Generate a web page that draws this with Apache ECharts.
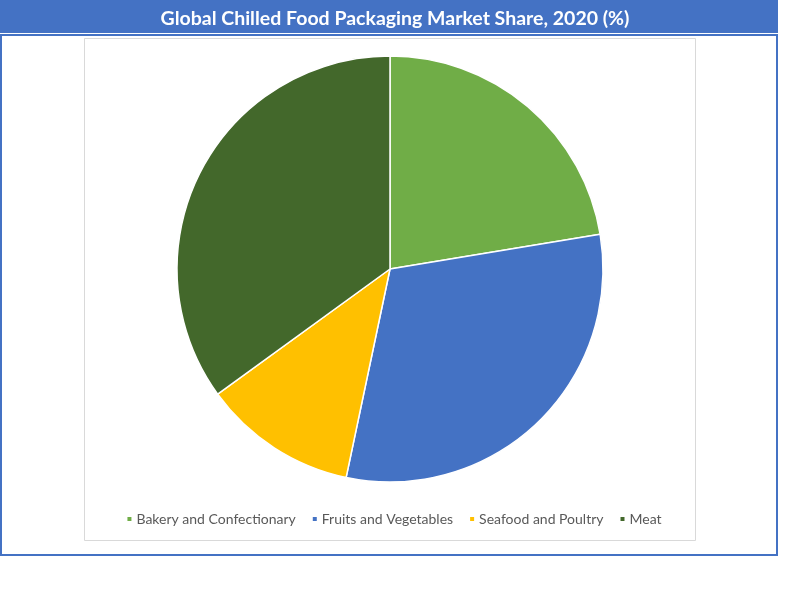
<!DOCTYPE html>
<html>
<head>
<meta charset="utf-8">
<script src="https://cdn.jsdelivr.net/npm/echarts@6/dist/echarts.min.js"></script>
<style>
  html, body { margin: 0; padding: 0; background: #ffffff; }
  #chart { width: 787px; height: 600px; }
</style>
</head>
<body>
<div id="chart"></div>
<script>
// market share, 2020 (%)
var categories = ['Bakery and Confectionary', 'Fruits and Vegetables', 'Seafood and Poultry', 'Meat'];
var shares = [22.4, 30.9, 11.7, 35.0];
var colors = ['#70AD47', '#4472C4', '#FFC000', '#43682B'];

var chart = echarts.init(document.getElementById('chart'));

var pieData = [];
for (var i = 0; i < categories.length; i++) {
	pieData.push({ name: categories[i], value: shares[i], itemStyle: { color: colors[i] } });
}

var option = {
	animation: false,
	backgroundColor: '#ffffff',
	graphic: [
		// outer blue frame
		{ type: 'rect', shape: { x: 1, y: 35, width: 776, height: 520 },
		  style: { fill: '#ffffff', stroke: '#4472C4', lineWidth: 2 }, z: 0 },
		// title bar
		{ type: 'rect', shape: { x: 0, y: 0, width: 778, height: 33 },
		  style: { fill: '#4472C4' }, z: 1 },
		// inner plot box
		{ type: 'rect', shape: { x: 84.5, y: 38.5, width: 611, height: 502 },
		  style: { fill: '#ffffff', stroke: '#D9D9D9', lineWidth: 1 }, z: 1 }
	],
	title: {
		text: 'Global Chilled Food Packaging Market Share, 2020 (%)',
		left: 390,
		top: 4,
		textAlign: 'center',
		textStyle: { color: '#ffffff', fontFamily: 'Lato', fontWeight: 'bold', fontSize: 19.5 },
		z: 5
	},
	legend: {
		data: categories,
		left: 'center',
		top: 507,
		icon: 'rect',
		itemWidth: 6,
		itemHeight: 6,
		itemGap: 15,
		textStyle: { color: '#595959', fontFamily: 'Lato', fontSize: 14, padding: [0, 0, 0, -1] },
		z: 5
	},
	series: [{
		type: 'pie',
		center: [390, 269],
		radius: 213,
		startAngle: 90,
		clockwise: true,
		label: { show: false },
		labelLine: { show: false },
		itemStyle: { borderColor: '#ffffff', borderWidth: 1.5 },
		emphasis: { disabled: true },
		data: pieData,
		z: 5
	}]
};

chart.setOption(option);
</script>
</body>
</html>
